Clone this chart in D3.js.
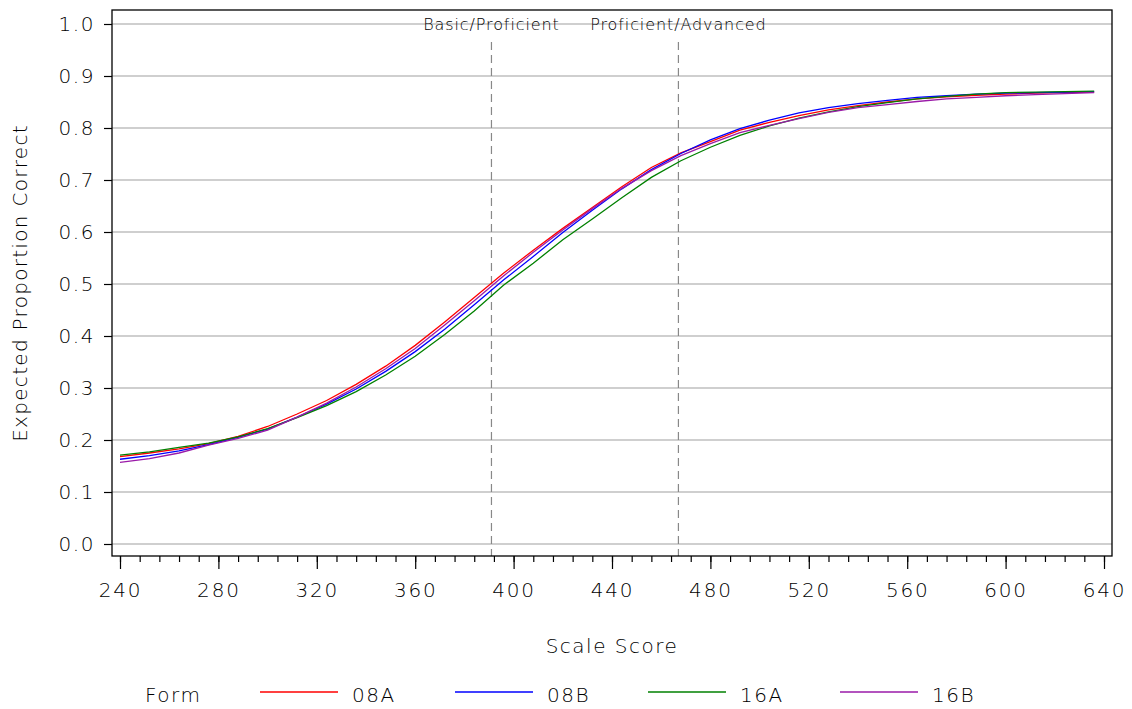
<!DOCTYPE html>
<html>
<head>
<meta charset="utf-8">
<script src="https://cdn.jsdelivr.net/npm/d3@7"></script>
<style>
  html, body { margin: 0; padding: 0; background: #fff; }
  svg text { font-family: "DejaVu Sans", sans-serif; font-weight: 200; fill: #000; }
</style>
</head>
<body>
<svg id="chart" width="1132" height="709"></svg>
<script>
// Scale scores at which the expected proportion correct was evaluated
const scores = [240, 252, 264, 276, 288, 300, 312, 324, 336, 348, 360, 372,
  384, 396, 408, 420, 432, 444, 456, 468, 480, 492, 504, 516, 528, 540,
  552, 564, 576, 588, 600, 612, 624, 636];

// Expected proportion correct by form
const form08A = [0.168, 0.175, 0.183, 0.193, 0.207, 0.226, 0.250, 0.276, 0.307, 0.342,
  0.382, 0.427, 0.474, 0.521, 0.565, 0.607, 0.647, 0.687, 0.724, 0.752, 0.774, 0.796,
  0.811, 0.824, 0.835, 0.843, 0.850, 0.856, 0.860, 0.863, 0.865, 0.867, 0.868, 0.869];
const form08B = [0.163, 0.170, 0.179, 0.191, 0.205, 0.221, 0.244, 0.269, 0.298, 0.332,
  0.370, 0.413, 0.460, 0.508, 0.553, 0.599, 0.642, 0.683, 0.720, 0.751, 0.777, 0.799,
  0.815, 0.829, 0.839, 0.847, 0.853, 0.859, 0.862, 0.865, 0.867, 0.868, 0.869, 0.870];
const form16A = [0.171, 0.177, 0.186, 0.194, 0.206, 0.222, 0.243, 0.266, 0.293, 0.325,
  0.361, 0.403, 0.448, 0.498, 0.540, 0.585, 0.625, 0.666, 0.705, 0.737, 0.763, 0.786,
  0.804, 0.819, 0.831, 0.841, 0.849, 0.856, 0.861, 0.865, 0.868, 0.869, 0.870, 0.871];
const form16B = [0.157, 0.164, 0.175, 0.190, 0.203, 0.219, 0.244, 0.271, 0.302, 0.337,
  0.376, 0.421, 0.468, 0.516, 0.561, 0.604, 0.645, 0.684, 0.718, 0.747, 0.770, 0.791,
  0.805, 0.818, 0.830, 0.839, 0.845, 0.851, 0.856, 0.859, 0.862, 0.864, 0.866, 0.868];

const formNames = ["08A", "08B", "16A", "16B"];
const formColors = ["#ff0000", "#0000ff", "#008000", "#9a1aa8"];

// Performance level cut scores
const cutScores = [391, 467];
const cutLabels = ["Basic/Proficient", "Proficient/Advanced"];

// Axis ticks
const yTicks = [0, 0.1, 0.2, 0.3, 0.4, 0.5, 0.6, 0.7, 0.8, 0.9, 1.0];
const xMajorTicks = [240, 280, 320, 360, 400, 440, 480, 520, 560, 600, 640];
const xMinorTicks = d3.range(240, 641, 8);

const series = [form08A, form08B, form16A, form16B];

const svg = d3.select("#chart");

const frame = { left: 112, top: 10, right: 1112, bottom: 556 };
const x = d3.scaleLinear().domain([240, 640]).range([120, 1104]);
const y = d3.scaleLinear().domain([0, 1]).range([544, 24]);

// Shared text look: a light, wide face
function labelStyle(sel, size, spacing) {
  sel.attr("font-size", size)
    .attr("font-family", "DejaVu Sans")
    .attr("font-weight", 200)
    .attr("letter-spacing", spacing)
    .attr("fill", "#000");
}

// Horizontal grid lines
svg.append("g")
  .selectAll("line")
  .data(yTicks)
  .join("line")
  .attr("x1", frame.left).attr("x2", frame.right)
  .attr("y1", d => y(d)).attr("y2", d => y(d))
  .attr("stroke", "#a0a0a0").attr("stroke-width", 1.2);

// Reference lines at the cut scores
svg.append("g")
  .selectAll("line")
  .data(cutScores)
  .join("line")
  .attr("x1", d => x(d)).attr("x2", d => x(d))
  .attr("y1", 42).attr("y2", frame.bottom)
  .attr("stroke", "#888").attr("stroke-width", 1.2)
  .attr("stroke-dasharray", "8,5");

svg.append("g")
  .selectAll("text")
  .data(cutScores)
  .join("text")
  .attr("x", d => x(d)).attr("y", 30)
  .attr("text-anchor", "middle")
  .call(labelStyle, 16, 0.9)
  .text((d, i) => cutLabels[i]);

// Curves
const line = d3.line()
  .x((d, i) => x(scores[i]))
  .y(d => y(d));

svg.append("g")
  .selectAll("path")
  .data(series)
  .join("path")
  .attr("d", d => line(d))
  .attr("fill", "none")
  .attr("stroke", (d, i) => formColors[i])
  .attr("stroke-width", 1.3);

// Frame
svg.append("rect")
  .attr("x", frame.left).attr("y", frame.top)
  .attr("width", frame.right - frame.left)
  .attr("height", frame.bottom - frame.top)
  .attr("fill", "none").attr("stroke", "#000").attr("stroke-width", 1.3);

// Y axis
const yAxis = d3.axisLeft(y)
  .tickValues(yTicks)
  .tickFormat(d3.format(".1f"))
  .tickSize(8)
  .tickPadding(9);
const yG = svg.append("g").attr("transform", `translate(${frame.left},0)`).call(yAxis);
yG.select(".domain").remove();
yG.selectAll("line").attr("stroke", "#000").attr("stroke-width", 1.2);
yG.selectAll("text").call(labelStyle, 20, 1.6);

// X axis, major and minor ticks
const xMinor = d3.axisBottom(x).tickValues(xMinorTicks).tickSize(6).tickFormat("");
const xMinorG = svg.append("g").attr("transform", `translate(0,${frame.bottom})`).call(xMinor);
xMinorG.select(".domain").remove();
xMinorG.selectAll("line").attr("stroke", "#000").attr("stroke-width", 1.2);

const xAxis = d3.axisBottom(x).tickValues(xMajorTicks).tickFormat(d3.format("d"))
  .tickSize(13).tickPadding(14);
const xG = svg.append("g").attr("transform", `translate(0,${frame.bottom})`).call(xAxis);
xG.select(".domain").remove();
xG.selectAll("line").attr("stroke", "#000").attr("stroke-width", 1.2);
xG.selectAll("text").call(labelStyle, 20, 1.8);

// Axis titles
svg.append("text")
  .attr("x", 612).attr("y", 653)
  .attr("text-anchor", "middle")
  .call(labelStyle, 20, 1.5)
  .text("Scale Score");

svg.append("text")
  .attr("transform", "translate(27,283) rotate(-90)")
  .attr("text-anchor", "middle")
  .call(labelStyle, 20, 1.3)
  .text("Expected Proportion Correct");

// Legend
const legend = svg.append("g");
legend.append("text")
  .attr("x", 145).attr("y", 702)
  .call(labelStyle, 20, 1.5)
  .text("Form");

const legendX = [260, 455, 648, 840];
const items = legend.selectAll("g.item")
  .data(formNames)
  .join("g")
  .attr("class", "item")
  .attr("transform", (d, i) => `translate(${legendX[i]},0)`);
items.append("line")
  .attr("x1", 0).attr("x2", 78)
  .attr("y1", 692).attr("y2", 692)
  .attr("stroke", (d, i) => formColors[i])
  .attr("stroke-width", 1.3);
items.append("text")
  .attr("x", 92).attr("y", 702)
  .call(labelStyle, 20, 1.5)
  .text(d => d);
</script>
</body>
</html>
